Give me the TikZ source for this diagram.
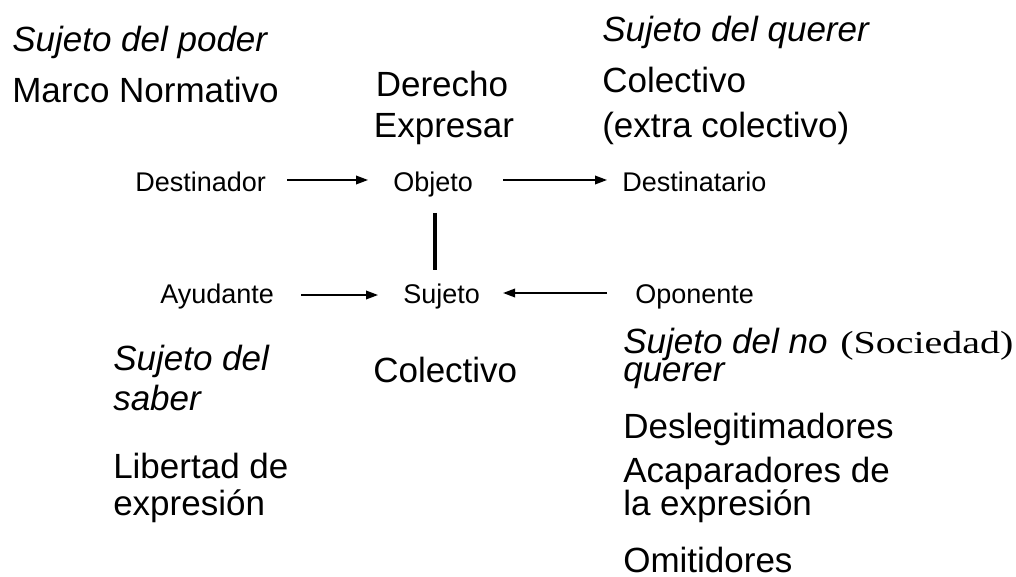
\documentclass[tikz,border=0pt]{standalone}
\usepackage{fontspec}
\setmainfont{Liberation Sans}
\newfontfamily\serifTNR{Liberation Serif}
\usetikzlibrary{arrows.meta,calc}
\begin{document}
\begin{tikzpicture}[x=0.75pt,y=-0.75pt,
  big/.style={anchor=base west,inner sep=0pt,font=\fontsize{26.25}{30}\selectfont},
  bigit/.style={anchor=base west,inner sep=0pt,font=\fontsize{26.25}{30}\selectfont\itshape},
  bigc/.style={anchor=base,inner sep=0pt,font=\fontsize{26.25}{30}\selectfont},
  small/.style={anchor=base west,inner sep=0pt,font=\fontsize{20.25}{24}\selectfont},
  serifnote/.style={anchor=base west,inner sep=0pt,font=\serifTNR\fontsize{24}{28}\selectfont},
  arr/.style={line width=1.1pt,-{Triangle[length=9pt,width=6.5pt]}},
  vline/.style={line width=3pt}]
\useasboundingbox (0,0) rectangle (1016,577);
% top texts
\node[bigit] (poder) at (12,52) {Sujeto del poder};
\node[big] (marco) at (12,103) {Marco Normativo};
\node[bigc] (derecho) at (442,97) {Derecho};
\node[bigc] (expresar) at (444,138) {Expresar};
\node[bigit] (querer) at (602,42) {Sujeto del querer};
\node[big] (colq) at (602,93) {Colectivo};
\node[big] (extra) at (602,138) {(extra colectivo)};
% actantial model
\node[small] (dest) at (135,192) {Destinador};
\node[small] (obj) at (393,192) {Objeto};
\node[small] (dstn) at (622,192) {Destinatario};
\node[small] (ayud) at (160,303) {Ayudante};
\node[small] (suj) at (403,303) {Sujeto};
\node[small] (opon) at (635,303) {Oponente};
% bottom texts
\node[bigit] (saberA) at (113,370) {Sujeto del};
\node[bigit] (saberB) at (113,410) {saber};
\node[big] (colS) at (373,382) {Colectivo};
\node[big] (libA) at (113,478) {Libertad de};
\node[big] (libB) at (113,515) {expresión};
\node[bigit] (noqA) at (623,353) {Sujeto del no};
\node[bigit] (noqB) at (623,381) {querer};
\node[serifnote] (soc) at (840,353) {\scalebox{1.25}[1]{(Sociedad)}};
\node[big] (desl) at (623,438) {Deslegitimadores};
\node[big] (acapA) at (623,482) {Acaparadores de};
\node[big] (acapB) at (623,515) {la expresión};
\node[big] (omit) at (623,572) {Omitidores};
% connectors
\draw[arr] ($(dest.base east)+(21,-12)$) -- ($(obj.base west)+(-25,-12)$);
\draw[arr] ($(obj.base east)+(30,-12)$) -- ($(dstn.base west)+(-15,-12)$);
\draw[arr] ($(ayud.base east)+(27,-8)$) -- ($(suj.base west)+(-25,-8)$);
\draw[arr] ($(opon.base west)+(-28,-10)$) -- ($(suj.base east)+(23,-10)$);
\coordinate (v1) at ($(obj.base)+(2,21)$);
\coordinate (v2) at ($(suj.base)+(0,-33)$);
\draw[vline] (v1) -- (v1 |- v2);
\end{tikzpicture}
\end{document}
